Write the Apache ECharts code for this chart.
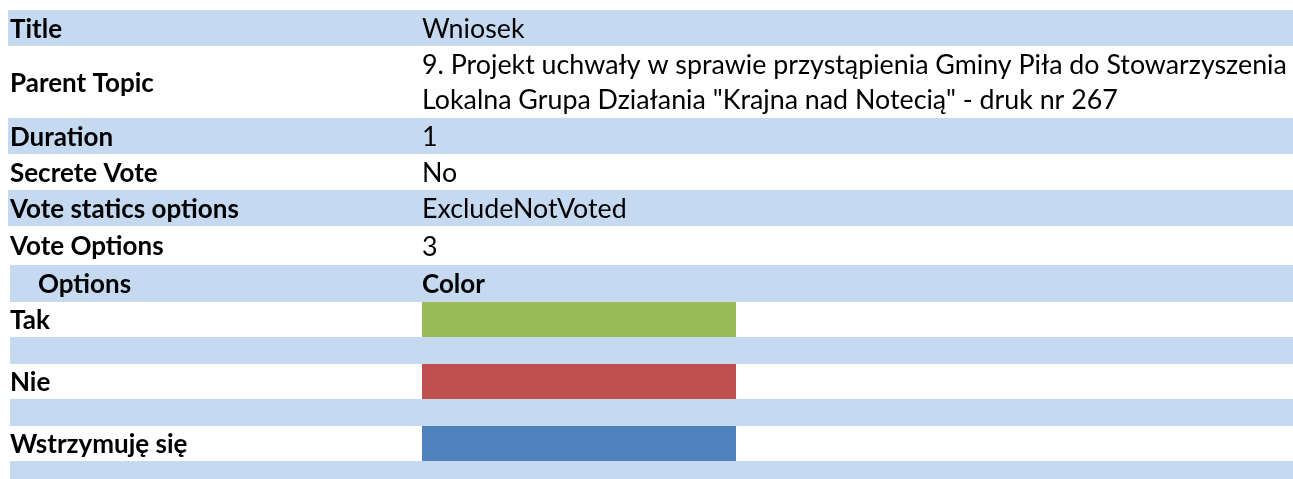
<!DOCTYPE html>
<html>
<head>
<meta charset="utf-8">
<script src="https://cdn.jsdelivr.net/npm/echarts@6/dist/echarts.min.js"></script>
<style>
html, body { margin: 0; padding: 0; background: #ffffff; }
#sheet { width: 1293px; height: 479px; }
</style>
</head>
<body>
<div id="sheet"></div>
<script>
// vote details
var infoLabels = ['Title', 'Parent Topic', 'Duration', 'Secrete Vote', 'Vote statics options', 'Vote Options'];
var infoValues = [
  'Wniosek',
  '9. Projekt uchwały w sprawie przystąpienia Gminy Piła do Stowarzyszenia\nLokalna Grupa Działania "Krajna nad Notecią" - druk nr 267',
  '1',
  'No',
  'ExcludeNotVoted',
  '3'
];
var optionHeaders = ['Options', 'Color'];
var optionNames = ['Tak', 'Nie', 'Wstrzymuję się'];
var optionColors = ['#9BBB59', '#C0504D', '#4F81BD'];

// sheet layout (pixels)
var W = 1293, H = 479;
var BAND = '#C5D9F1';
var FONT = 'Lato, "Noto Sans", sans-serif';
var FS_BOLD = 26, FS_REG = 26.8;
var infoTop = [10, 46, 118, 154, 190, 226];
var infoH = [36, 72, 36, 36, 36, 39];
var headTop = 265, headH = 37;
var optTop = 302, optH = 35, gapH = 27;
var valueX = 422, swatchW = 314;

var chart = echarts.init(document.getElementById('sheet'));

function pt(api, x, y) { return api.coord([x, y]); }

function rect(api, x0, y0, x1, y1, color) {
  var a = pt(api, x0, y0), b = pt(api, x1, y1);
  return { type: 'rect', shape: { x: a[0], y: a[1], width: b[0] - a[0], height: b[1] - a[1] }, style: { fill: color } };
}

function txt(api, x, y, s, bold) {
  var p = pt(api, x, y);
  return {
    type: 'text',
    style: {
      x: p[0], y: p[1], text: s, fill: '#000000',
      fontFamily: FONT, fontSize: bold ? FS_BOLD : FS_REG, fontWeight: bold ? 'bold' : 'normal',
      verticalAlign: 'middle', align: 'left', lineHeight: 35
    }
  };
}

chart.setOption({
  animation: false,
  backgroundColor: '#ffffff',
  grid: { left: 0, right: 0, top: 0, bottom: 0 },
  xAxis: { type: 'value', min: 0, max: W, show: false },
  yAxis: { type: 'value', min: 0, max: H, inverse: true, show: false },
  series: [
    {
      name: 'info',
      type: 'custom',
      silent: true,
      data: infoLabels.map(function (l, i) { return [i]; }),
      renderItem: function (params, api) {
        var i = api.value(0);
        var t = infoTop[i], h = infoH[i];
        var cy = t + h / 2 + 1.5;
        var kids = [];
        if (i % 2 === 0) kids.push(rect(api, 8, t, W, t + h, BAND));
        kids.push(txt(api, 10, cy, infoLabels[i], true));
        kids.push(txt(api, valueX, i === 1 ? cy - 1 : cy, infoValues[i], false));
        return { type: 'group', children: kids };
      }
    },
    {
      name: 'header',
      type: 'custom',
      silent: true,
      data: [[0]],
      renderItem: function (params, api) {
        var cy = headTop + headH / 2 + 1;
        return {
          type: 'group',
          children: [
            rect(api, 10, headTop, W, headTop + headH, BAND),
            txt(api, 38, cy, optionHeaders[0], true),
            txt(api, valueX, cy, optionHeaders[1], true)
          ]
        };
      }
    },
    {
      name: 'options',
      type: 'custom',
      silent: true,
      data: optionNames.map(function (n, i) { return [i]; }),
      renderItem: function (params, api) {
        var i = api.value(0);
        var t = optTop + i * (optH + gapH);
        return {
          type: 'group',
          children: [
            rect(api, valueX, t, valueX + swatchW, t + optH, optionColors[i]),
            rect(api, 10, t + optH, W, t + optH + gapH, BAND),
            txt(api, 10, t + optH / 2 + 1, optionNames[i], true)
          ]
        };
      }
    }
  ]
});
</script>
</body>
</html>
